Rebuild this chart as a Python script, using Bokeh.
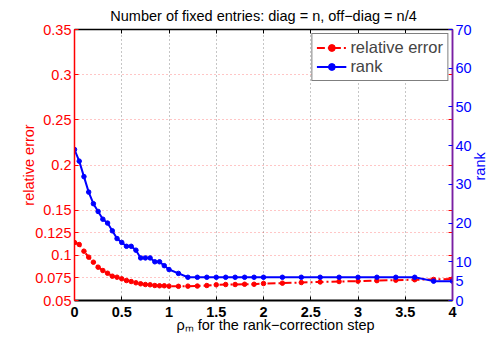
from math import pi
from bokeh.plotting import figure
from bokeh.models import (Range1d, LinearAxis, FixedTicker, Legend,
                          LegendItem, ColumnDataSource)
from bokeh.embed import file_html
from bokeh.resources import INLINE

# ---------------- data ----------------
rho = [0.0, 0.05, 0.1, 0.15, 0.2, 0.25, 0.3, 0.35, 0.4, 0.45, 0.5,
       0.55, 0.6, 0.65, 0.7, 0.75, 0.8, 0.85, 0.9, 0.95, 1.0,
       1.1, 1.2, 1.3, 1.4, 1.5, 1.6, 1.7, 1.8, 1.9, 2.0,
       2.2, 2.4, 2.6, 2.8, 3.0, 3.2, 3.4, 3.6, 3.8, 4.0]
rel_err = [0.1142, 0.1120, 0.1046, 0.0980, 0.0924, 0.0869, 0.0832, 0.0802,
           0.0769, 0.0758, 0.0740, 0.0721, 0.0710, 0.0696, 0.0685, 0.0677,
           0.0674, 0.0666, 0.0663, 0.0663, 0.0659,
           0.0657, 0.0659, 0.0660, 0.0666, 0.0674, 0.0677, 0.0677, 0.0680,
           0.0680, 0.0688,
           0.0692, 0.0699, 0.0705, 0.0710, 0.0714, 0.0720, 0.0725, 0.0730,
           0.0733, 0.0737]
rank = [39, 36, 32, 28, 25, 23, 21, 20, 18, 16, 15, 14, 14, 13, 11, 11,
        11, 10, 10, 9, 8,
        7, 6, 6, 6, 6, 6, 6, 6, 6, 6,
        6, 6, 6, 6, 6, 6, 6, 6, 5, 5]

x_ticks = [0, 0.5, 1, 1.5, 2, 2.5, 3, 3.5, 4]
x_tick_labels = ["0", "0.5", "1", "1.5", "2", "2.5", "3", "3.5", "4"]
err_ticks = [0.05, 0.075, 0.1, 0.125, 0.15, 0.2, 0.25, 0.3, 0.35]
err_tick_labels = ["0.05", "0.075", "0.1", "0.125", "0.15", "0.2", "0.25", "0.3", "0.35"]
rank_ticks = [0, 5, 10, 20, 30, 40, 50, 60, 70]
rank_tick_labels = ["0", "5", "10", "20", "30", "40", "50", "60", "70"]

title_text = "Number of fixed entries: diag = n, off\u2212diag = n/4"
x_label = "\u00a0" * 6 + "\u03c1\u2098 for the rank\u2212correction step"
left_label = "relative error"
right_label = "rank"
RIGHT_LABEL_POS = 31.0   # where (in rank units) the rotated "rank" text sits
FONT = "Liberation Sans"
FS = "14.5px"

# ---------------- figure ----------------
p = figure(width=499, height=345, output_backend="svg", toolbar_location=None,
           x_range=Range1d(0, 4), y_range=Range1d(0.05, 0.35),
           min_border_left=74, min_border_right=44, min_border_top=29,
           min_border_bottom=45, background_fill_color="white",
           border_fill_color="white")
p.outline_line_color = None
p.extra_y_ranges = {"rank": Range1d(0, 70)}

p.title.text = title_text
p.title.align = "center"
p.title.vertical_align = "top"
p.title.text_font = FONT
p.title.text_font_size = FS
p.title.text_font_style = "normal"
p.title.text_color = "black"
p.title.standoff = 8
p.title.offset = 0

src = ColumnDataSource(dict(rho=rho, err=rel_err, rank=rank))

# grids
p.xgrid.ticker = FixedTicker(ticks=x_ticks)
p.xgrid.grid_line_color = "black"
p.xgrid.grid_line_alpha = 0.45
p.xgrid.grid_line_dash = "1 3"
p.ygrid.ticker = FixedTicker(ticks=err_ticks)
p.ygrid.grid_line_color = "red"
p.ygrid.grid_line_alpha = 0.45
p.ygrid.grid_line_dash = "1 3"

# bottom axis
xa = p.xaxis[0]
xa.ticker = FixedTicker(ticks=x_ticks)
xa.major_label_overrides = dict(zip(x_ticks, x_tick_labels))
xa.major_tick_in = 4
xa.major_tick_out = 0
xa.minor_tick_line_color = None
xa.axis_line_width = 2
xa.axis_line_color = "black"
xa.major_tick_line_color = "black"
xa.major_label_text_font = FONT
xa.major_label_text_font_size = FS
xa.major_label_text_font_style = "bold"
xa.major_label_text_color = "black"
xa.major_label_standoff = 6
xa.axis_label = x_label
xa.axis_label_text_font = FONT
xa.axis_label_text_font_size = FS
xa.axis_label_text_font_style = "normal"
xa.axis_label_text_color = "black"
xa.axis_label_standoff = -3

# left axis
ya = p.yaxis[0]
ya.ticker = FixedTicker(ticks=err_ticks)
ya.major_label_overrides = dict(zip(err_ticks, err_tick_labels))
ya.major_tick_in = 4
ya.major_tick_out = 0
ya.minor_tick_line_color = None
ya.axis_line_color = "red"
ya.axis_line_width = 1.5
ya.major_tick_line_color = "red"
ya.major_label_text_color = "red"
ya.major_label_text_font = FONT
ya.major_label_text_font_size = FS
ya.major_label_standoff = 3
ya.axis_label = left_label
ya.axis_label_text_font = FONT
ya.axis_label_text_font_size = FS
ya.axis_label_text_font_style = "normal"
ya.axis_label_text_color = "red"
ya.axis_label_standoff = -5

# top axis (ticks only)
top = LinearAxis(ticker=FixedTicker(ticks=x_ticks), major_tick_in=4,
                 major_tick_out=0, minor_tick_line_color=None,
                 axis_line_color="black", axis_line_width=1.5,
                 major_label_text_font_size="1px",
                 major_label_text_color=None, major_label_standoff=0)
p.add_layout(top, "above")

# right red tick marks (left scale), no labels
rred = LinearAxis(ticker=FixedTicker(ticks=err_ticks), major_tick_in=4,
                  major_tick_out=0, minor_tick_line_color=None,
                  axis_line_color="#7a1fa2", axis_line_width=1.5,
                  major_tick_line_color="red",
                  major_label_text_font_size="1px",
                  major_label_text_color=None, major_label_standoff=0)
p.add_layout(rred, "right")

# right blue axis (rank)
rblue = LinearAxis(y_range_name="rank", ticker=FixedTicker(ticks=rank_ticks),
                   major_label_overrides=dict(zip(rank_ticks, rank_tick_labels)),
                   major_tick_in=4, major_tick_out=0, minor_tick_line_color=None,
                   axis_line_color="#7a1fa2", axis_line_width=1.5,
                   major_tick_line_color="blue", major_label_text_color="blue",
                   major_label_text_font=FONT, major_label_text_font_size=FS,
                   major_label_standoff=3)
p.add_layout(rblue, "right")

# right-side title "rank", reading bottom-to-top (drawn as a rotated tick label)
rlab = LinearAxis(y_range_name="rank", ticker=FixedTicker(ticks=[RIGHT_LABEL_POS]),
                  major_label_overrides={RIGHT_LABEL_POS: right_label},
                  major_label_orientation=pi / 2,
                  major_tick_in=0, major_tick_out=0, major_tick_line_color=None,
                  minor_tick_line_color=None, axis_line_color=None,
                  major_label_text_color="blue", major_label_text_font=FONT,
                  major_label_text_font_size=FS, major_label_standoff=6)
p.add_layout(rlab, "right")

# ---------------- series ----------------
r1 = p.line("rho", "err", source=src, line_color="red", line_width=2,
            line_dash="8 3 2 3")
r1m = p.scatter("rho", "err", source=src, size=4.5, color="red")
r2 = p.line("rho", "rank", source=src, y_range_name="rank", line_color="blue",
            line_width=2)
r2m = p.scatter("rho", "rank", source=src, y_range_name="rank", size=4.5,
                color="blue")

legend = Legend(items=[LegendItem(label="relative error", renderers=[r1, r1m]),
                       LegendItem(label="rank", renderers=[r2, r2m])],
                location="top_right", margin=4, padding=4, spacing=0,
                glyph_width=30, glyph_height=17, label_height=17,
                label_standoff=4, label_text_font=FONT,
                label_text_font_size="16.5px", border_line_color="black",
                border_line_width=1, background_fill_alpha=1.0)
p.add_layout(legend)

open("out.html", "w").write(file_html(p, INLINE))
